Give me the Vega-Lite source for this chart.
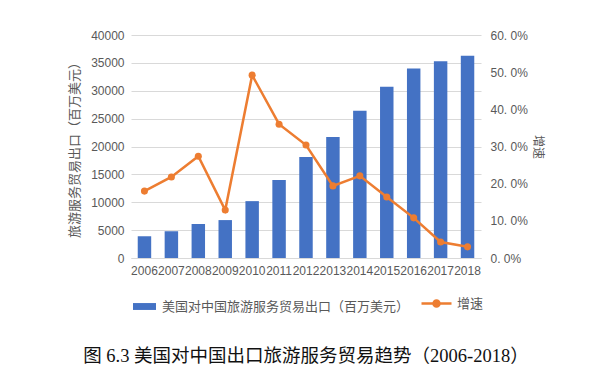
{
  "$schema": "https://vega.github.io/schema/vega-lite/v6.json",
  "autosize": {"type": "none"},
  "width": 350,
  "height": 223,
  "padding": {"left": 131, "top": 35, "right": 133, "bottom": 128},
  "background": "white",
  "config": {
    "view": {"stroke": null},
    "font": "Liberation Sans, Noto Sans CJK SC",
    "axis": {"labelColor": "#595959", "titleColor": "#595959", "labelFontSize": 12, "titleFontSize": 12, "titleFontWeight": "normal", "titleFont": "Noto Sans CJK SC", "labelFont": "Liberation Sans, Noto Sans CJK SC"}
  },
  "title": {
    "text": "图 6.3 美国对中国出口旅游服务贸易趋势（2006-2018）",
    "orient": "bottom",
    "anchor": "middle",
    "font": "Liberation Serif, Noto Sans CJK SC",
    "fontSize": 18.5,
    "fontWeight": "normal",
    "color": "#111111",
    "offset": 33
  },
  "data": {
    "values": [
      {"year": "2006", "exports": 3900, "growth": 0.180},
      {"year": "2007", "exports": 4800, "growth": 0.218},
      {"year": "2008", "exports": 6100, "growth": 0.274},
      {"year": "2009", "exports": 6800, "growth": 0.129},
      {"year": "2010", "exports": 10200, "growth": 0.492},
      {"year": "2011", "exports": 14000, "growth": 0.360},
      {"year": "2012", "exports": 18100, "growth": 0.304},
      {"year": "2013", "exports": 21700, "growth": 0.194},
      {"year": "2014", "exports": 26400, "growth": 0.221},
      {"year": "2015", "exports": 30700, "growth": 0.164},
      {"year": "2016", "exports": 34000, "growth": 0.108},
      {"year": "2017", "exports": 35300, "growth": 0.043},
      {"year": "2018", "exports": 36300, "growth": 0.030}
    ]
  },
  "encoding": {
    "x": {
      "field": "year", "type": "nominal", "title": null,
      "scale": {"paddingInner": 0.5, "paddingOuter": 0.25},
      "axis": {"labelAngle": 0, "labelOverlap": false, "labelBound": false, "ticks": false, "domainColor": "#D9D9D9", "labelPadding": 7, "labelFontSize": 12}
    }
  },
  "layer": [
    {
      "mark": {"type": "bar", "color": "#4472C4"},
      "encoding": {
        "y": {
          "field": "exports", "type": "quantitative",
          "title": "旅游服务贸易出口（百万美元）",
          "scale": {"domain": [0, 40000]},
          "axis": {"values": [0, 5000, 10000, 15000, 20000, 25000, 30000, 35000, 40000], "format": "d", "domain": false, "ticks": false, "gridColor": "#D9D9D9", "labelPadding": 7, "titlePadding": 9, "titleFontSize": 13}
        },
        "color": {
          "datum": "美国对中国旅游服务贸易出口（百万美元）",
          "scale": {"range": ["#4472C4"]},
          "legend": {"orient": "none", "legendX": 2, "legendY": 260, "title": null, "padding": 0, "symbolType": "M-1,-0.3H1V0.3H-1Z", "symbolSize": 529, "symbolStrokeWidth": 0, "labelFont": "Noto Sans CJK SC", "labelFontSize": 13, "labelColor": "#595959", "labelOffset": 6, "labelLimit": 0}
        }
      }
    },
    {
      "mark": {"type": "line", "color": "#ED7D31", "strokeWidth": 2.5, "point": {"filled": true, "size": 50, "color": "#ED7D31"}},
      "encoding": {
        "y": {
          "field": "growth", "type": "quantitative",
          "title": "增速",
          "scale": {"domain": [0, 0.6]},
          "axis": {"orient": "right", "values": [0, 0.1, 0.2, 0.3, 0.4, 0.5, 0.6], "labelExpr": "replace(format(datum.value, '.1%'), '.', '. ')", "domain": false, "ticks": false, "grid": false, "labelPadding": 9, "titlePadding": 3}
        },
        "color": {
          "datum": "增速",
          "scale": {"range": ["#ED7D31"]},
          "legend": {"orient": "none", "legendX": 289, "legendY": 252, "title": null, "padding": 0, "symbolType": "M-1,0H1M0.2,0A0.2,0.2 0 1,1 -0.2,0A0.2,0.2 0 1,1 0.2,0Z", "symbolSize": 900, "symbolStrokeWidth": 2.5, "symbolFillColor": "#ED7D31", "symbolStrokeColor": "#ED7D31", "labelFont": "Noto Sans CJK SC", "labelFontSize": 13, "labelColor": "#595959", "labelOffset": 4}
        }
      }
    }
  ],
  "resolve": {"scale": {"y": "independent", "color": "independent"}}
}
